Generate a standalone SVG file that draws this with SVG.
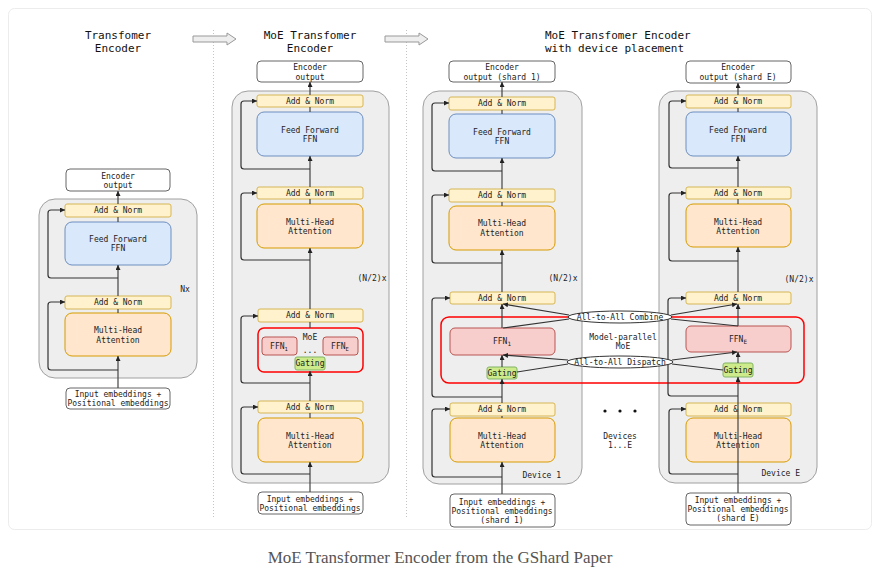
<svg xmlns="http://www.w3.org/2000/svg" width="887" height="576" viewBox="0 0 887 576">
<style>
.an{fill:#fff2cc;stroke:#d6b656;stroke-width:1}
.ff{fill:#dae8fc;stroke:#6c8ebf;stroke-width:1}
.mh{fill:#ffe6cc;stroke:#d79b00;stroke-width:1}
.fe{fill:#f8cecc;stroke:#b85450;stroke-width:1}
.gt{fill:#cdeb8b;stroke:#82b366;stroke-width:1}
.io{fill:#fff;stroke:#666;stroke-width:1}
.ct{fill:#eeeeee;stroke:#a0a0a0;stroke-width:1}
.moe{fill:none;stroke:#ff0000;stroke-width:1.5}
.el{fill:#fff;stroke:#333;stroke-width:1}
.t{font-family:"DejaVu Sans Mono","Liberation Mono",monospace;font-size:8px;fill:#222;text-anchor:middle}
.ttl{font-family:"DejaVu Sans Mono","Liberation Mono",monospace;font-size:11px;fill:#111;text-anchor:middle}
.e{text-anchor:end}
.s{text-anchor:start}
.ln{fill:none;stroke:#444;stroke-width:1.2}
.lp{fill:none;stroke:#333;stroke-width:1.2}
.ar{marker-end:url(#ah)}
.ba{fill:#eeeeee;stroke:#999;stroke-width:1}
.dv{stroke:#c4c4c4;stroke-width:1;stroke-dasharray:1 2}
</style>
<defs>
<marker id="ah" viewBox="0 0 6 6" refX="6" refY="3" markerWidth="5" markerHeight="5" markerUnits="userSpaceOnUse" orient="auto">
<path d="M0,0 L6,3 L0,6 z" fill="#222"/>
</marker>
</defs>
<rect x="0" y="0" width="887" height="576" fill="#fff"/>
<rect x="8.5" y="8.5" width="863" height="521" rx="6" fill="#fff" stroke="#ececec"/>

<g id="decor">
<line class="dv" x1="213.5" y1="30" x2="213.5" y2="519"/>
<line class="dv" x1="406.5" y1="30" x2="406.5" y2="519"/>
<path class="ba" d="M193,36 H227 V33 L236,39 L227,45 V42 H193 Z"/>
<path class="ba" d="M385,36 H419 V33 L428,39 L419,45 V42 H385 Z"/>
<text class="ttl" x="118" y="39">Transfomer</text>
<text class="ttl" x="118" y="52">Encoder</text>
<text class="ttl" x="310" y="39">MoE Transfomer</text>
<text class="ttl" x="310" y="52">Encoder</text>
<text class="ttl s" x="545" y="39">MoE Transfomer Encoder</text>
<text class="ttl s" x="545" y="52">with device placement</text>
</g>

<!-- Column 1 -->
<g id="c1-container"><rect class="ct" x="39" y="199" width="158" height="179" rx="16"/><text class="t" x="185" y="292">Nx</text></g>
<g id="c1-out"><rect class="io" x="66" y="169" width="104" height="22" rx="4"/><text class="t" x="118" y="179">Encoder</text><text class="t" x="118" y="188">output</text></g>
<g id="c1-an1"><rect class="an" x="65" y="204" width="106" height="13" rx="2"/><text class="t" x="118" y="213">Add &amp; Norm</text></g>
<g id="c1-ffn"><rect class="ff" x="65" y="222" width="106" height="43" rx="7"/><text class="t" x="118" y="242">Feed Forward</text><text class="t" x="118" y="251">FFN</text></g>
<g id="c1-an2"><rect class="an" x="65" y="296" width="106" height="13" rx="2"/><text class="t" x="118" y="305">Add &amp; Norm</text></g>
<g id="c1-mha"><rect class="mh" x="65" y="313" width="106" height="43" rx="7"/><text class="t" x="118" y="333">Multi-Head</text><text class="t" x="118" y="343">Attention</text></g>
<g id="c1-in"><rect class="io" x="66" y="388" width="104" height="21" rx="4"/><text class="t" x="118" y="397">Input embeddings +</text><text class="t" x="118" y="406">Positional embeddings</text></g>

<!-- Column 2 -->
<g id="c2-container"><rect class="ct" x="232" y="91" width="157" height="392" rx="16"/><text class="t" x="372" y="281">(N/2)x</text></g>
<g id="c2-out"><rect class="io" x="257" y="61" width="106" height="21" rx="4"/><text class="t" x="310" y="70">Encoder</text><text class="t" x="310" y="80">output</text></g>
<g id="c2-an1"><rect class="an" x="257" y="95" width="106" height="12" rx="2"/><text class="t" x="310" y="104">Add &amp; Norm</text></g>
<g id="c2-ffn"><rect class="ff" x="257" y="112" width="106" height="44" rx="7"/><text class="t" x="310" y="133">Feed Forward</text><text class="t" x="310" y="142">FFN</text></g>
<g id="c2-an2"><rect class="an" x="257" y="187" width="106" height="12" rx="2"/><text class="t" x="310" y="196">Add &amp; Norm</text></g>
<g id="c2-mha"><rect class="mh" x="257" y="204" width="106" height="44" rx="7"/><text class="t" x="310" y="225">Multi-Head</text><text class="t" x="310" y="234">Attention</text></g>
<g id="c2-an3"><rect class="an" x="258" y="309" width="105" height="13" rx="2"/><text class="t" x="310" y="318">Add &amp; Norm</text></g>
<g id="c2-moe"><rect class="moe" x="258" y="328" width="105" height="44" rx="6"/><text class="t" x="310" y="340">MoE</text><text class="t" x="310" y="353">...</text></g>
<g id="c2-ffn1"><rect class="fe" x="262" y="337" width="35" height="18" rx="3"/><text class="t" x="279" y="349">FFN<tspan font-size="5.5" dy="1.5">1</tspan></text></g>
<g id="c2-ffne"><rect class="fe" x="323" y="337" width="35" height="18" rx="3"/><text class="t" x="340" y="349">FFN<tspan font-size="5.5" dy="1.5">E</tspan></text></g>
<g id="c2-gating"><rect class="gt" x="295" y="357" width="30" height="13" rx="2"/><text class="t" x="310" y="366">Gating</text></g>
<g id="c2-an4"><rect class="an" x="258" y="401" width="105" height="12" rx="2"/><text class="t" x="310" y="410">Add &amp; Norm</text></g>
<g id="c2-mha2"><rect class="mh" x="258" y="418" width="105" height="44" rx="7"/><text class="t" x="310" y="439">Multi-Head</text><text class="t" x="310" y="448">Attention</text></g>
<g id="c2-in"><rect class="io" x="258" y="492" width="105" height="22" rx="4"/><text class="t" x="310" y="502">Input embeddings +</text><text class="t" x="310" y="511">Positional embeddings</text></g>

<!-- Column 3 (Device 1) -->
<g id="c3-container"><rect class="ct" x="423" y="91" width="159" height="393" rx="16"/><text class="t" x="563" y="281">(N/2)x</text><text class="t e" x="561" y="478">Device 1</text></g>
<g id="c3-out"><rect class="io" x="449" y="61" width="106" height="21" rx="4"/><text class="t" x="502" y="70">Encoder</text><text class="t" x="502" y="80">output (shard 1)</text></g>
<g id="c3-an1"><rect class="an" x="449" y="97" width="106" height="13" rx="2"/><text class="t" x="502" y="106">Add &amp; Norm</text></g>
<g id="c3-ffn"><rect class="ff" x="449" y="114" width="106" height="44" rx="7"/><text class="t" x="502" y="135">Feed Forward</text><text class="t" x="502" y="144">FFN</text></g>
<g id="c3-an2"><rect class="an" x="449" y="189" width="106" height="13" rx="2"/><text class="t" x="502" y="198">Add &amp; Norm</text></g>
<g id="c3-mha"><rect class="mh" x="449" y="206" width="106" height="44" rx="7"/><text class="t" x="502" y="226">Multi-Head</text><text class="t" x="502" y="236">Attention</text></g>
<g id="c3-an3"><rect class="an" x="450" y="292" width="105" height="12" rx="2"/><text class="t" x="502" y="301">Add &amp; Norm</text></g>
<g id="c3-ffn1"><rect class="fe" x="450" y="328" width="105" height="27" rx="5"/><text class="t" x="502" y="344">FFN<tspan font-size="6" dy="1.5">1</tspan></text></g>
<g id="c3-gating"><rect class="gt" x="487" y="367" width="30" height="12" rx="2"/><text class="t" x="502" y="376">Gating</text></g>
<g id="c3-an4"><rect class="an" x="450" y="403" width="105" height="13" rx="2"/><text class="t" x="502" y="412">Add &amp; Norm</text></g>
<g id="c3-mha2"><rect class="mh" x="450" y="418" width="105" height="44" rx="7"/><text class="t" x="502" y="439">Multi-Head</text><text class="t" x="502" y="448">Attention</text></g>
<g id="c3-in"><rect class="io" x="450" y="494" width="105" height="33" rx="4"/><text class="t" x="502" y="505">Input embeddings +</text><text class="t" x="502" y="514">Positional embeddings</text><text class="t" x="502" y="523">(shard 1)</text></g>

<!-- Column E (Device E) -->
<g id="ce-container"><rect class="ct" x="659" y="91" width="158" height="392" rx="16"/><text class="t" x="799" y="282">(N/2)x</text><text class="t e" x="800" y="476">Device E</text></g>
<g id="ce-out"><rect class="io" x="686" y="61" width="105" height="22" rx="4"/><text class="t" x="738" y="70">Encoder</text><text class="t" x="738" y="80">output (shard E)</text></g>
<g id="ce-an1"><rect class="an" x="686" y="95" width="105" height="13" rx="2"/><text class="t" x="738" y="104">Add &amp; Norm</text></g>
<g id="ce-ffn"><rect class="ff" x="686" y="112" width="105" height="44" rx="7"/><text class="t" x="738" y="133">Feed Forward</text><text class="t" x="738" y="142">FFN</text></g>
<g id="ce-an2"><rect class="an" x="686" y="187" width="105" height="12" rx="2"/><text class="t" x="738" y="196">Add &amp; Norm</text></g>
<g id="ce-mha"><rect class="mh" x="686" y="204" width="105" height="43" rx="7"/><text class="t" x="738" y="225">Multi-Head</text><text class="t" x="738" y="234">Attention</text></g>
<g id="ce-an3"><rect class="an" x="686" y="292" width="105" height="12" rx="2"/><text class="t" x="738" y="301">Add &amp; Norm</text></g>
<g id="ce-ffne"><rect class="fe" x="686" y="326" width="105" height="26" rx="5"/><text class="t" x="738" y="342">FFN<tspan font-size="6" dy="1.5">E</tspan></text></g>
<g id="ce-gating"><rect class="gt" x="723" y="363" width="30" height="14" rx="2"/><text class="t" x="738" y="373">Gating</text></g>
<g id="ce-an4"><rect class="an" x="686" y="403" width="105" height="13" rx="2"/><text class="t" x="738" y="412">Add &amp; Norm</text></g>
<g id="ce-mha2"><rect class="mh" x="686" y="418" width="105" height="44" rx="7"/><text class="t" x="738" y="439">Multi-Head</text><text class="t" x="738" y="448">Attention</text></g>
<g id="ce-in"><rect class="io" x="686" y="493" width="105" height="32" rx="4"/><text class="t" x="738" y="503">Input embeddings +</text><text class="t" x="738" y="512">Positional embeddings</text><text class="t" x="738" y="521">(shard E)</text></g>

<!-- Model-parallel MoE -->
<g id="mp-moe"><rect class="moe" x="441" y="317" width="363" height="66" rx="8"/><text class="t" x="623" y="340">Model-parallel</text><text class="t" x="623" y="349">MoE</text></g>
<g id="devices"><circle cx="605" cy="411" r="1.6" fill="#111"/><circle cx="620" cy="411" r="1.6" fill="#111"/><circle cx="635" cy="411" r="1.6" fill="#111"/><text class="t" x="620" y="439">Devices</text><text class="t" x="620" y="448">1...E</text></g>

<g id="connectors">
<!-- col1 -->
<line class="ln ar" x1="118" y1="388" x2="118" y2="356"/>
<line class="ln" x1="118" y1="313" x2="118" y2="309"/>
<line class="ln ar" x1="118" y1="296" x2="118" y2="265"/>
<line class="ln" x1="118" y1="222" x2="118" y2="217"/>
<line class="ln ar" x1="118" y1="204" x2="118" y2="191"/>
<path class="lp ar" d="M118,370 H51 Q48,370 48,367 V305 Q48,302 51,302 H65"/>
<path class="lp ar" d="M118,278 H51 Q48,278 48,275 V213 Q48,210 51,210 H65"/>
<!-- col2 -->
<line class="ln ar" x1="310" y1="492" x2="310" y2="462"/>
<line class="ln" x1="310" y1="418" x2="310" y2="413"/>
<line class="ln ar" x1="310" y1="401" x2="310" y2="371"/>
<line class="ln" x1="310" y1="328" x2="310" y2="322"/>
<line class="ln ar" x1="310" y1="309" x2="310" y2="248"/>
<line class="ln" x1="310" y1="204" x2="310" y2="199"/>
<line class="ln ar" x1="310" y1="187" x2="310" y2="156"/>
<line class="ln" x1="310" y1="112" x2="310" y2="107"/>
<line class="ln ar" x1="310" y1="95" x2="310" y2="82"/>
<path class="lp ar" d="M310,474 H244 Q241,474 241,471 V410 Q241,407 244,407 H258"/>
<path class="lp ar" d="M310,383 H244 Q241,383 241,380 V319 Q241,316 244,316 H258"/>
<path class="lp ar" d="M310,260 H244 Q241,260 241,257 V196 Q241,193 244,193 H257"/>
<path class="lp ar" d="M310,169 H244 Q241,169 241,166 V104 Q241,101 244,101 H257"/>
<!-- col3 -->
<line class="ln ar" x1="502" y1="494" x2="502" y2="462"/>
<line class="ln" x1="502" y1="418" x2="502" y2="416"/>
<line class="ln ar" x1="502" y1="403" x2="502" y2="379"/>
<line class="ln ar" x1="502" y1="367" x2="502" y2="355"/>
<line class="ln ar" x1="502" y1="328" x2="502" y2="304"/>
<line class="ln ar" x1="502" y1="292" x2="502" y2="250"/>
<line class="ln" x1="502" y1="206" x2="502" y2="202"/>
<line class="ln ar" x1="502" y1="189" x2="502" y2="158"/>
<line class="ln" x1="502" y1="114" x2="502" y2="110"/>
<line class="ln ar" x1="502" y1="97" x2="502" y2="82"/>
<path class="lp ar" d="M502,477 H435 Q432,477 432,474 V412 Q432,409 435,409 H450"/>
<path class="lp ar" d="M502,397 H435 Q432,397 432,394 V301 Q432,298 435,298 H450"/>
<path class="lp ar" d="M502,263 H435 Q432,263 432,260 V198 Q432,195 435,195 H449"/>
<path class="lp ar" d="M502,171 H435 Q432,171 432,168 V106 Q432,103 435,103 H449"/>
<!-- colE -->
<line class="ln ar" x1="738" y1="493" x2="738" y2="377"/>
<line class="ln ar" x1="738" y1="363" x2="738" y2="352"/>
<line class="ln ar" x1="738" y1="326" x2="738" y2="304"/>
<line class="ln ar" x1="738" y1="292" x2="738" y2="247"/>
<line class="ln" x1="738" y1="204" x2="738" y2="199"/>
<line class="ln ar" x1="738" y1="187" x2="738" y2="156"/>
<line class="ln" x1="738" y1="112" x2="738" y2="108"/>
<line class="ln ar" x1="738" y1="95" x2="738" y2="83"/>
<path class="lp ar" d="M738,474 H672 Q669,474 669,471 V412 Q669,409 672,409 H686"/>
<path class="lp ar" d="M738,396 H671 Q668,396 668,393 V301 Q668,298 671,298 H686"/>
<path class="lp ar" d="M738,261 H672 Q669,261 669,258 V196 Q669,193 672,193 H686"/>
<path class="lp ar" d="M738,168 H672 Q669,168 669,165 V104 Q669,101 672,101 H686"/>
<!-- all-to-all -->
<line class="lp ar" x1="569" y1="315" x2="503" y2="304"/>
<line class="lp" x1="503" y1="328" x2="569" y2="319"/>
<line class="lp ar" x1="671" y1="315" x2="737" y2="304"/>
<line class="lp" x1="671" y1="319" x2="738" y2="326"/>
<line class="lp ar" x1="568" y1="360" x2="503" y2="355"/>
<line class="lp" x1="517" y1="372" x2="568" y2="364"/>
<line class="lp ar" x1="672" y1="360" x2="737" y2="352"/>
<line class="lp" x1="672" y1="364" x2="723" y2="370"/>
</g>

<g id="combine"><ellipse class="el" cx="620" cy="317" rx="52" ry="6"/><text class="t" x="620" y="320">All-to-All Combine</text></g>
<g id="dispatch"><ellipse class="el" cx="620" cy="362" rx="53" ry="6"/><text class="t" x="620" y="365">All-to-All Dispatch</text></g>

<text x="440" y="563" font-family="'Liberation Serif',serif" font-size="17" fill="#555" text-anchor="middle">MoE Transformer Encoder from the GShard Paper</text>
</svg>
